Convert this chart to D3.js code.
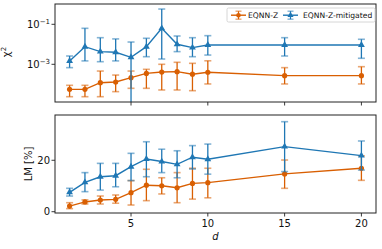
<!DOCTYPE html>
<html><head><meta charset="utf-8">
<script src="https://cdn.jsdelivr.net/npm/d3@7"></script>
<style>body{margin:0;background:#fff}svg{display:block;font-family:"DejaVu Sans",sans-serif}</style>
</head><body><svg id="c" width="382" height="249"></svg>
<script>
const depths = [1,2,3,4,5,6,7,8,9,10,15,20];
// chi^2 (log scale)
const chiZ      = [5.6e-5,5.6e-5,1.2e-4,1.3e-4,2.14e-4,3.5e-4,4.1e-4,4.3e-4,3.2e-4,4.0e-4,2.7e-4,2.7e-4];
const chiZLo    = [2.4e-5,2.4e-5,2.4e-5,4.3e-5,6.3e-5,6.3e-5,5.2e-5,5.2e-5,4.8e-5,1.04e-4,1.04e-4,1.04e-4];
const chiZHi    = [8.9e-5,8.9e-5,4.6e-4,2.9e-4,4.6e-4,5.6e-4,1.0e-3,1.26e-3,1.12e-3,1.5e-3,6.8e-4,7.6e-4];
const chiM      = [1.46e-3,7.6e-3,4.3e-3,4.0e-3,2.24e-3,7.6e-3,6.3e-2,1.0e-2,6.8e-3,9.2e-3,9.2e-3,9.2e-3];
const chiMLo    = [6.8e-4,1.48e-3,1.35e-3,1.48e-3,1e-6,2.4e-3,1.84e-3,4.3e-3,2.4e-3,2.9e-3,2.6e-3,2.0e-3];
const chiMHi    = [2.6e-3,6.3e-2,2.14e-2,1.86e-2,1.3e-2,2.0e-2,0.58,2.6e-2,2.14e-2,2.7e-2,2.14e-2,1.78e-2];
// LM [%]
const lmZ       = [2.2,3.8,4.55,4.8,7.4,10.3,10.1,9.3,11.0,11.3,14.7,16.9];
const lmZLo     = [1.2,3.0,3.0,3.3,2.6,4.3,6.9,3.5,4.9,5.4,9.1,12.2];
const lmZHi     = [3.5,4.6,6.1,6.5,12.1,16.5,13.2,15.2,16.9,16.9,20.1,21.7];
const lmM       = [7.55,11.4,13.6,14.0,17.5,20.5,19.5,18.4,21.2,20.4,25.3,21.8];
const lmMLo     = [6.1,7.8,8.4,9.7,12.1,13.6,15.2,13.2,16.6,14.6,15.6,16.2];
const lmMHi     = [9.1,15.2,18.8,18.8,22.7,27.2,24.3,23.7,25.7,26.3,35.0,27.5];
const xTicks = [5,10,15,20];
const chiTicks = [1e-1,1e-3];
const chiTickExp = ["−1","−3"];
const lmTicks = [0,20];
const seriesNames = ["EQNN-Z","EQNN-Z-mitigated"];
const colors = ["#d95f02","#1f77b4"];

const svg = d3.select("#c");
const L = 55, R = 376;
const x = d3.scaleLinear().domain([0.05,20.95]).range([L,R]);
const yTop = d3.scaleLog().domain([Math.pow(10,-4.885),Math.pow(10,0.015)]).range([102,4]);
const yBot = d3.scaleLinear().domain([-0.5,37.6]).range([213,115]);

function panel(y, top, bottom, id, series){
  const defs = svg.append("defs");
  defs.append("clipPath").attr("id",id).append("rect").attr("x",L).attr("y",top).attr("width",R-L).attr("height",bottom-top);
  const g = svg.append("g").attr("clip-path",`url(#${id})`);
  series.forEach((s,si)=>{
    const c = colors[si];
    const data = depths.map((d,i)=>({d, v:s.v[i], lo:s.lo[i], hi:s.hi[i]}));
    const eg = g.append("g");
    data.forEach(p=>{
      const xp = x(p.d);
      eg.append("line").attr("x1",xp).attr("x2",xp).attr("y1",y(p.lo)).attr("y2",y(p.hi)).attr("stroke",c).attr("stroke-width",1.3);
      [p.lo,p.hi].forEach(v=>{
        eg.append("line").attr("x1",xp-3.5).attr("x2",xp+3.5).attr("y1",y(v)).attr("y2",y(v)).attr("stroke",c).attr("stroke-width",1.6).attr("opacity",0.55);
      });
    });
    g.append("path").datum(data).attr("fill","none").attr("stroke",c).attr("stroke-width",1.4)
      .attr("d",d3.line().x(p=>x(p.d)).y(p=>y(p.v)));
    data.forEach(p=>{
      if(si===0) g.append("circle").attr("cx",x(p.d)).attr("cy",y(p.v)).attr("r",2.6).attr("fill",c);
      else g.append("path").attr("transform",`translate(${x(p.d)},${y(p.v)})`).attr("d",d3.symbol(d3.symbolTriangle,20)()).attr("fill",c);
    });
  });
  // frame
  svg.append("rect").attr("x",L).attr("y",top).attr("width",R-L).attr("height",bottom-top).attr("fill","none").attr("stroke","#222").attr("stroke-width",1);
  // x ticks
  xTicks.forEach(t=>{
    svg.append("line").attr("x1",x(t)).attr("x2",x(t)).attr("y1",bottom).attr("y2",bottom+3.5).attr("stroke","#222").attr("stroke-width",0.9);
  });
}

panel(yTop,4,102,"cp1",[{v:chiZ,lo:chiZLo,hi:chiZHi},{v:chiM,lo:chiMLo,hi:chiMHi}]);
panel(yBot,115,213,"cp2",[{v:lmZ,lo:lmZLo,hi:lmZHi},{v:lmM,lo:lmMLo,hi:lmMHi}]);

// top y ticks
chiTicks.forEach((t,i)=>{
  const yy = yTop(t);
  svg.append("line").attr("x1",L-3.5).attr("x2",L).attr("y1",yy).attr("y2",yy).attr("stroke","#222").attr("stroke-width",0.9);
  const tx = svg.append("text").attr("x",L-5).attr("y",yy+4).attr("text-anchor","end").attr("font-size",10).attr("fill","#111");
  tx.append("tspan").text("10");
  tx.append("tspan").attr("dy",-4.5).attr("font-size",7).text(chiTickExp[i]);
});
// bottom y ticks
lmTicks.forEach(t=>{
  const yy = yBot(t);
  svg.append("line").attr("x1",L-3.5).attr("x2",L).attr("y1",yy).attr("y2",yy).attr("stroke","#222").attr("stroke-width",0.9);
  svg.append("text").attr("x",L-5).attr("y",yy+3.6).attr("text-anchor","end").attr("font-size",10).attr("fill","#111").text(t);
});
// x tick labels (bottom)
xTicks.forEach(t=>{
  svg.append("text").attr("x",x(t)).attr("y",227).attr("text-anchor","middle").attr("font-size",10).attr("fill","#111").text(t);
});
// axis labels
svg.append("text").attr("x",(L+R)/2).attr("y",240).attr("text-anchor","middle").attr("font-size",10).attr("font-style","italic").attr("fill","#111").text("d");
const yl = svg.append("text").attr("transform","translate(10,52) rotate(-90)").attr("text-anchor","middle").attr("font-size",10).attr("fill","#111");
yl.append("tspan").text("χ");
yl.append("tspan").attr("dy",-4).attr("font-size",7).text("2");
svg.append("text").attr("transform","translate(32,164) rotate(-90)").attr("text-anchor","middle").attr("font-size",10).attr("fill","#111").text("LM [%]");

// legend
const lg = svg.append("g");
lg.append("rect").attr("x",227).attr("y",8).attr("width",148).attr("height",14).attr("rx",1.5).attr("fill","#fff").attr("stroke","#ccc").attr("stroke-width",0.8);
const lx = [231,283], tx = [248,303];
seriesNames.forEach((n,i)=>{
  const c = colors[i], cy = 15.2, cx = lx[i]+7.5;
  lg.append("line").attr("x1",lx[i]).attr("x2",lx[i]+15).attr("y1",cy).attr("y2",cy).attr("stroke",c).attr("stroke-width",1.4);
  lg.append("line").attr("x1",cx).attr("x2",cx).attr("y1",cy-4).attr("y2",cy+4).attr("stroke",c).attr("stroke-width",1.2);
  [cy-4,cy+4].forEach(v=>lg.append("line").attr("x1",cx-3).attr("x2",cx+3).attr("y1",v).attr("y2",v).attr("stroke",c).attr("stroke-width",1.4).attr("opacity",0.55));
  if(i===0) lg.append("circle").attr("cx",cx).attr("cy",cy).attr("r",2.3).attr("fill",c);
  else lg.append("path").attr("transform",`translate(${cx},${cy})`).attr("d",d3.symbol(d3.symbolTriangle,16)()).attr("fill",c);
  lg.append("text").attr("x",tx[i]).attr("y",cy+2.7).attr("font-size",7.6).attr("fill","#111").text(n);
});
</script></body></html>
